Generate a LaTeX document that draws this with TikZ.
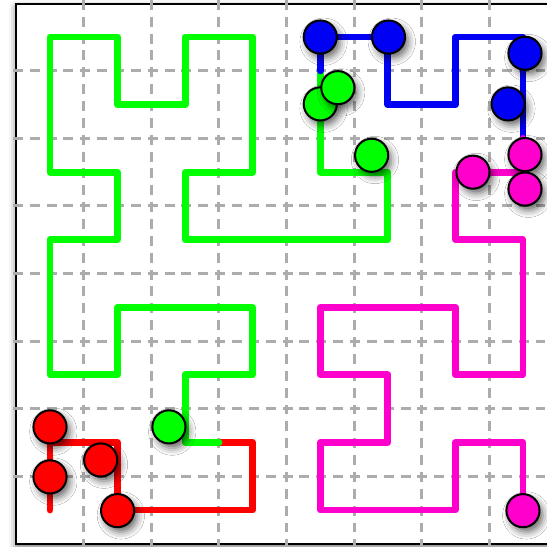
\documentclass[tikz,border=0pt]{standalone}
\usetikzlibrary{shadows.blur}
\definecolor{hred}{RGB}{255,0,0}
\definecolor{hgreen}{RGB}{0,255,0}
\definecolor{hblue}{RGB}{0,0,245}
\definecolor{hpink}{RGB}{255,0,204}
\definecolor{gridgray}{RGB}{172,172,172}
\begin{document}
\begin{tikzpicture}[
  gridline/.style={draw=gridgray, line width=1.3pt, dash pattern=on 4.2pt off 2.9pt},
  curve/.style={line width=2.9pt, line cap=round, line join=round},
  agent/.style={circle, draw=black, line width=0.85pt, minimum size=0.49cm, inner sep=0pt,
    blur shadow={shadow xshift=1.4pt, shadow yshift=-2pt, shadow blur radius=3pt, shadow opacity=60}},
]
\useasboundingbox (-0.74,-7.548) rectangle (7.355,0.548);
% frame
\path[fill=white, blur shadow={shadow xshift=0pt, shadow yshift=-1.5pt, shadow blur radius=3pt, shadow opacity=55}]
  (-0.5,-7.5) rectangle (7.5,0.49);
\draw[black, line width=0.8pt] (-0.5,-7.5) rectangle (7.5,0.49);
% grid
\foreach \k in {0.5,1.5,...,6.5} {
  \draw[gridline] (\k,0.55) -- (\k,-7.55);
  \draw[gridline] (-0.55,-\k) -- (7.55,-\k);
}
% Hilbert curve
\draw[curve, hred] (2.5,-6) -- (3,-6) -- (3,-7) -- (1,-7) -- (1,-6) -- (0,-6) -- (0,-7);
\draw[curve, hgreen] (2.5,-6) -- (2,-6) -- (2,-5) -- (3,-5) -- (3,-4) -- (1,-4) -- (1,-5) -- (0,-5)
  -- (0,-3) -- (1,-3) -- (1,-2) -- (0,-2) -- (0,0) -- (1,0) -- (1,-1) -- (2,-1) -- (2,0)
  -- (3,0) -- (3,-2) -- (2,-2) -- (2,-3) -- (5,-3) -- (5,-2) -- (4,-2) -- (4,-0.5);
\draw[curve, hblue] (4,-0.5) -- (4,0) -- (5,0) -- (5,-1) -- (6,-1) -- (6,0) -- (7,0) -- (7,-1.5);
\draw[curve, hpink] (7,-1.5) -- (7,-2) -- (6,-2) -- (6,-3) -- (7,-3) -- (7,-5) -- (6,-5) -- (6,-4)
  -- (4,-4) -- (4,-5) -- (5,-5) -- (5,-6) -- (4,-6) -- (4,-7) -- (6,-7) -- (6,-6) -- (7,-6) -- (7,-7);
% agents
\node[agent, fill=hred] (r1) at (0,-5.77) {};
\node[agent, fill=hred] (r2) at (0,-6.51) {};
\node[agent, fill=hred] (r3) at (0.75,-6.26) {};
\node[agent, fill=hred] (r4) at (1,-7.01) {};
\node[agent, fill=hgreen] (g1) at (1.76,-5.77) {};
\node[agent, fill=hgreen] (g2) at (4,-0.99) {};
\node[agent, fill=hgreen] (g3) at (4.26,-0.75) {};
\node[agent, fill=hgreen] (g4) at (4.76,-1.75) {};
\node[agent, fill=hblue] (b1) at (4,0) {};
\node[agent, fill=hblue] (b2) at (5.01,0) {};
\node[agent, fill=hblue] (b3) at (6.78,-0.99) {};
\node[agent, fill=hblue] (b4) at (7.03,-0.24) {};
\node[agent, fill=hpink] (m1) at (6.26,-2) {};
\node[agent, fill=hpink] (m2) at (7.03,-1.74) {};
\node[agent, fill=hpink] (m3) at (7.03,-2.25) {};
\node[agent, fill=hpink] (m4) at (7,-7.01) {};
\end{tikzpicture}
\end{document}
